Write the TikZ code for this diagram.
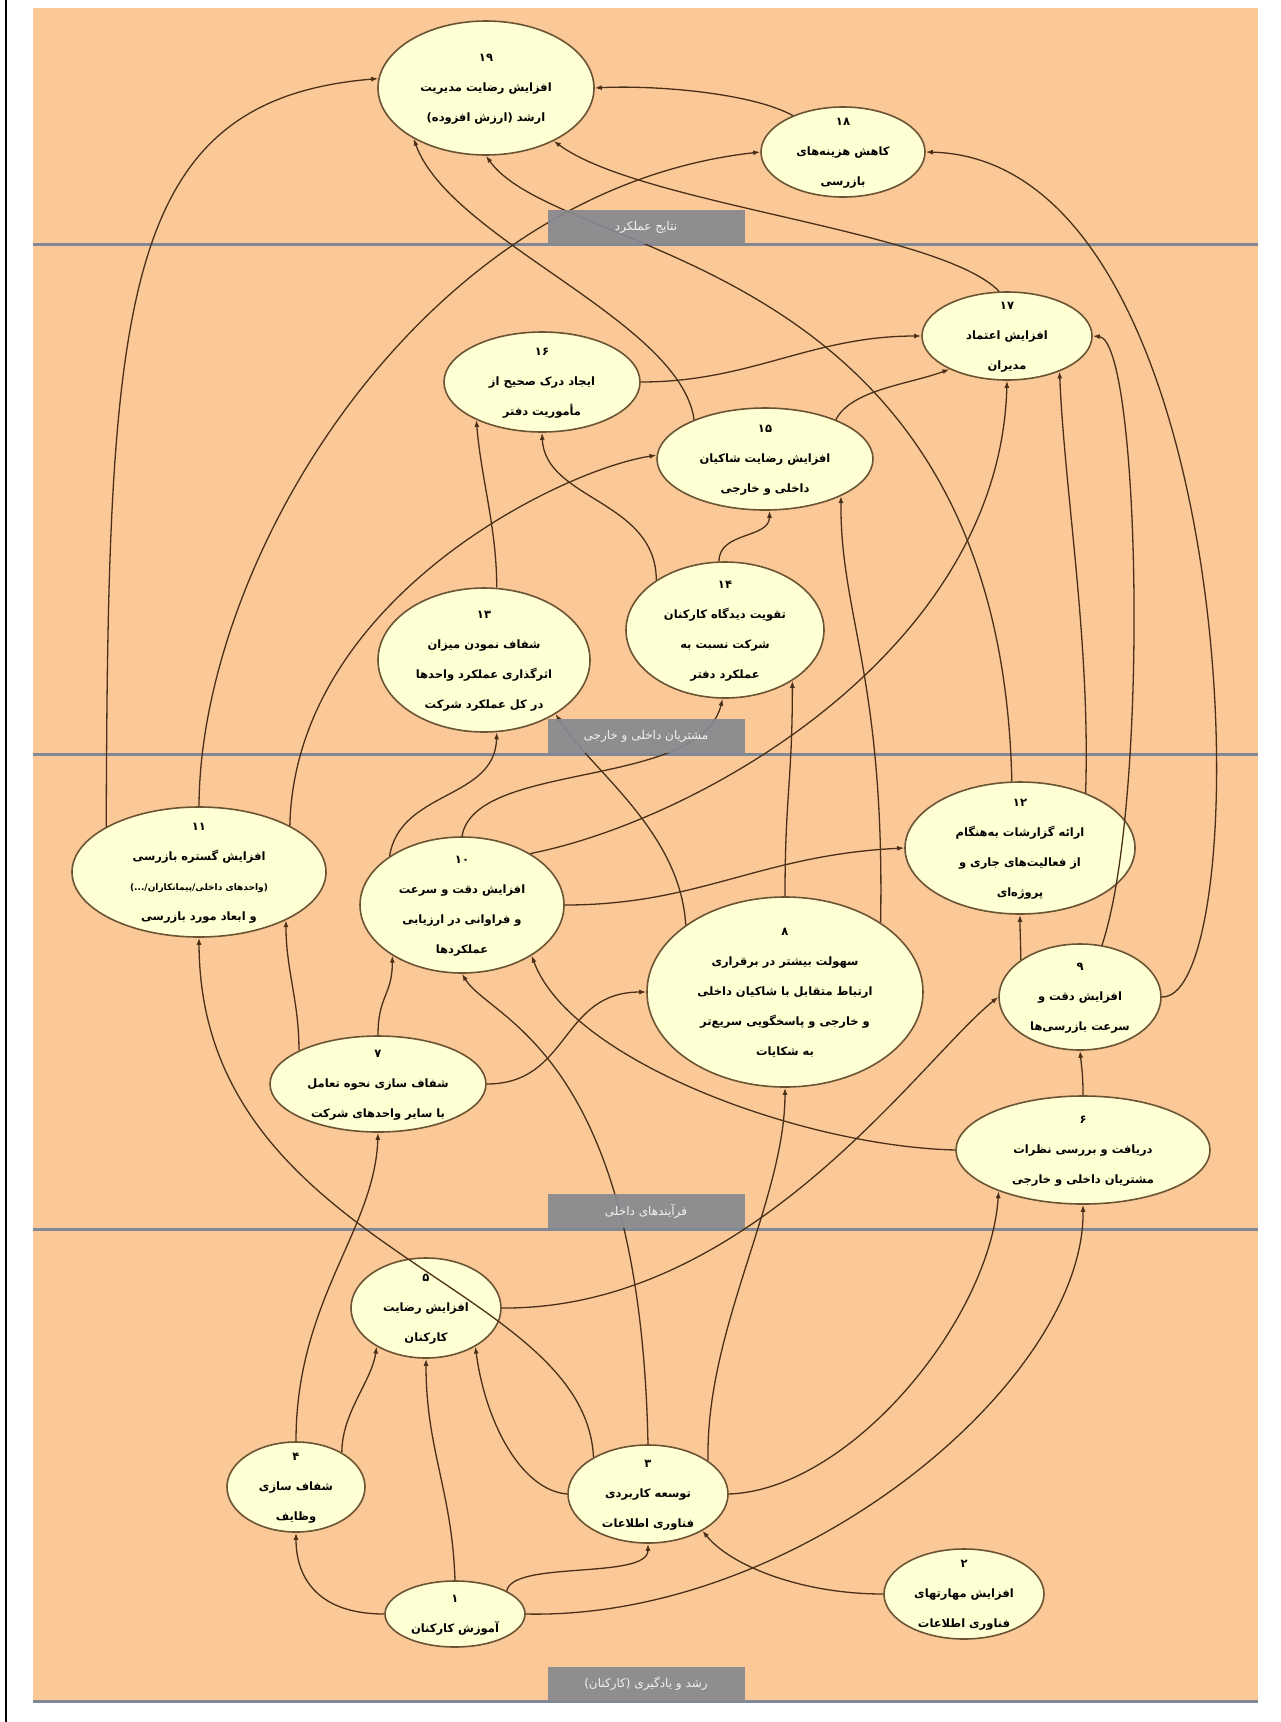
\documentclass[tikz,border=0pt]{standalone}
\usepackage{fontspec}
\usepackage{tikz}
\usetikzlibrary{shapes.geometric,arrows.meta}
\newfontfamily\arabicfont[Script=Arabic,BoldFont={DejaVu Sans Bold}]{DejaVu Sans}
\TeXXeTstate=1
\newcommand\fa[1]{{\arabicfont\beginR #1\endR}}
\newcommand\goaltext[1]{\makebox[0pt]{\smash{\begin{tabular}{@{}c@{}}#1\end{tabular}}}}
\definecolor{peach}{HTML}{FBC898}
\definecolor{goalfill}{HTML}{FFFFD4}
\definecolor{goalborder}{HTML}{6B5433}
\definecolor{linkbrown}{HTML}{4A3018}
\definecolor{sepgray}{HTML}{7F8894}
\definecolor{boxgray}{HTML}{86898F}

\begin{document}
\begin{tikzpicture}[x=1pt,y=-1pt,
  goal/.style={ellipse,draw=goalborder,fill=goalfill,line width=1.6pt,inner sep=0pt,font=\arabicfont\bfseries\fontsize{11.5}{30}\selectfont},
  link/.style={draw=linkbrown,line width=1.3pt,-{Latex[length=7pt,width=5pt]}},
  sepline/.style={draw=sepgray,line width=3pt},
  stagebox/.style={fill=boxgray,fill opacity=.92,text opacity=1,text=white!90!gray,minimum width=197pt,minimum height=34pt,inner sep=0pt,font=\fontsize{12}{14}\selectfont}]
\useasboundingbox (0,0) rectangle (1281,1722);
\fill[white] (0,0) rectangle (1281,1722);
\fill[peach] (33,8) rectangle (1258,1700);
\draw[black,line width=1.2pt] (6,0) -- (6,1722);
\foreach \yy in {244,754,1229,1701} \draw[sepline] (33,\yy) -- (1258,\yy);

\node[goal,minimum width=216pt,minimum height=134pt] (g19) at (486,88) {\goaltext{۱۹\\ \fa{افزایش رضایت مدیریت}\\ \fa{ارشد (ارزش افزوده)}}};
\node[goal,minimum width=164pt,minimum height=90pt] (g18) at (843,152) {\goaltext{۱۸\\ \fa{کاهش هزینه‌های}\\ \fa{بازرسی}}};
\node[goal,minimum width=170pt,minimum height=88pt] (g17) at (1007,336) {\goaltext{۱۷\\ \fa{افزایش اعتماد}\\ \fa{مدیران}}};
\node[goal,minimum width=196pt,minimum height=100pt] (g16) at (542,382) {\goaltext{۱۶\\ \fa{ایجاد درک صحیح از}\\ \fa{مأموریت دفتر}}};
\node[goal,minimum width=216pt,minimum height=102pt] (g15) at (765,459) {\goaltext{۱۵\\ \fa{افزایش رضایت شاکیان}\\ \fa{داخلی و خارجی}}};
\node[goal,minimum width=198pt,minimum height=136pt] (g14) at (725,630) {\goaltext{۱۴\\ \fa{تقویت دیدگاه کارکنان}\\ \fa{شرکت نسبت به}\\ \fa{عملکرد دفتر}}};
\node[goal,minimum width=212pt,minimum height=144pt] (g13) at (484,660) {\goaltext{۱۳\\ \fa{شفاف نمودن میزان}\\ \fa{اثرگذاری عملکرد واحدها}\\ \fa{در کل عملکرد شرکت}}};
\node[goal,minimum width=230pt,minimum height=132pt] (g12) at (1020,848) {\goaltext{۱۲\\ \fa{ارائه گزارشات به‌هنگام}\\ \fa{از فعالیت‌های جاری و}\\ \fa{پروژه‌ای}}};
\node[goal,minimum width=254pt,minimum height=130pt] (g11) at (199,872) {\goaltext{۱۱\\ \fa{افزایش گستره بازرسی}\\ {\fontsize{9}{30}\selectfont\fa{(واحدهای داخلی/پیمانکاران/...)}}\\ \fa{و ابعاد مورد بازرسی}}};
\node[goal,minimum width=204pt,minimum height=136pt] (g10) at (462,905) {\goaltext{۱۰\\ \fa{افزایش دقت و سرعت}\\ \fa{و فراوانی در ارزیابی}\\ \fa{عملکردها}}};
\node[goal,minimum width=276pt,minimum height=190pt] (g8) at (785,992) {\goaltext{۸\\ \fa{سهولت بیشتر در برقراری}\\ \fa{ارتباط متقابل با شاکیان داخلی}\\ \fa{و خارجی و پاسخگویی سریع‌تر}\\ \fa{به شکایات}}};
\node[goal,minimum width=162pt,minimum height=106pt] (g9) at (1080,997) {\goaltext{۹\\ \fa{افزایش دقت و}\\ \fa{سرعت بازرسی‌ها}}};
\node[goal,minimum width=216pt,minimum height=96pt] (g7) at (378,1084) {\goaltext{۷\\ \fa{شفاف سازی نحوه تعامل}\\ \fa{با سایر واحدهای شرکت}}};
\node[goal,minimum width=254pt,minimum height=108pt] (g6) at (1083,1150) {\goaltext{۶\\ \fa{دریافت و بررسی نظرات}\\ \fa{مشتریان داخلی و خارجی}}};
\node[goal,minimum width=150pt,minimum height=100pt] (g5) at (426,1308) {\goaltext{۵\\ \fa{افزایش رضایت}\\ \fa{کارکنان}}};
\node[goal,minimum width=138pt,minimum height=90pt] (g4) at (296,1487) {\goaltext{۴\\ \fa{شفاف سازی}\\ \fa{وظایف}}};
\node[goal,minimum width=160pt,minimum height=98pt] (g3) at (648,1494) {\goaltext{۳\\ \fa{توسعه کاربردی}\\ \fa{فناوری اطلاعات}}};
\node[goal,minimum width=160pt,minimum height=90pt] (g2) at (964,1594) {\goaltext{۲\\ \fa{افزایش مهارتهای}\\ \fa{فناوری اطلاعات}}};
\node[goal,minimum width=140pt,minimum height=66pt] (g1) at (455,1614) {\goaltext{۱\\ \fa{آموزش کارکنان}}};

\draw[link] (g18.144) .. controls (750,92) and (650,85) .. (g19.0);
\draw[link] (g9.0) .. controls (1260,1000) and (1250,160) .. (g18.0);
\draw[link] (g17.100) .. controls (940,230) and (640,205) .. (g19.-38);
\draw[link] (g12.97) .. controls (1000,250) and (560,260) .. (g19.-90);
\draw[link] (g15.151) .. controls (680,320) and (450,240) .. (g19.-145);
\draw[link] (g11.154) .. controls (108,300) and (120,100) .. (g19.175);
\draw[link] (g11.90) .. controls (200,560) and (420,190) .. (g18.180);
\draw[link] (g11.27) .. controls (295,600) and (560,470) .. (g15.178);
\draw[link] (g15.29) .. controls +(15,-30) and +(-40,15) .. (g17.210);
\draw[link] (g16.0) .. controls +(110,0) and +(-110,0) .. (g17.180);
\draw[link] (g13.80) .. controls +(0,-60) and +(5,60) .. (g16.-150);
\draw[link] (g14.144) .. controls (656,500) and (545,500) .. (g16.-90);
\draw[link] (g14.95) .. controls +(0,-30) and +(0,28) .. (g15.-85);
\draw[link] (g8.36) .. controls (885,676) and (840,615) .. (g15.-26);
\draw[link] (g8.90) .. controls +(0,-100) and +(0,100) .. (g14.-37);
\draw[link] (g8.146) .. controls (680,830) and (590,770) .. (g13.-37);
\draw[link] (g10.146) .. controls (400,790) and (495,800) .. (g13.-80);
\draw[link] (g10.90) .. controls (475,760) and (700,790) .. (g14.-92);
\draw[link] (g10.0) .. controls (700,905) and (760,855) .. (g12.180);
\draw[link] (g10.37) .. controls (700,820) and (1000,650) .. (g17.-90);
\draw[link] (g12.40) .. controls +(5,-150) and +(5,120) .. (g17.-34);
\draw[link] (g9.148) .. controls +(0,-20) and +(0,20) .. (g12.-90);
\draw[link] (g9.67) .. controls (1150,800) and (1140,340) .. (g17.0);
\draw[link] (g6.90) .. controls +(0,-20) and +(2,20) .. (g9.-90);
\draw[link] (g6.180) .. controls (800,1146) and (570,1060) .. (g10.-36);
\draw[link] (g7.157) .. controls +(0,-50) and +(0,50) .. (g11.-29);
\draw[link] (g7.90) .. controls +(0,-40) and +(0,40) .. (g10.-144);
\draw[link] (g7.0) .. controls (570,1084) and (560,992) .. (g8.180);
\draw[link] (g3.180) .. controls (520,1490) and (485,1420) .. (g5.-38);
\draw[link] (g1.24) .. controls (512,1560) and (648,1580) .. (g3.-90);
\draw[link] (g1.180) .. controls (320,1614) and (296,1580) .. (g4.-90);
\draw[link] (g1.90) .. controls (452,1490) and (426,1450) .. (g5.-90);
\draw[link] (g1.0) .. controls (800,1620) and (1085,1380) .. (g6.-90);
\draw[link] (g2.180) .. controls (800,1594) and (730,1565) .. (g3.-34);
\draw[link] (g4.37) .. controls +(0,-40) and +(-5,35) .. (g5.218);
\draw[link] (g4.90) .. controls (296,1300) and (375,1230) .. (g7.-90);
\draw[link] (g3.146) .. controls (585,1280) and (200,1250) .. (g11.-90);
\draw[link] (g3.90) .. controls (640,1050) and (490,1020) .. (g10.-90);
\draw[link] (g3.29) .. controls (705,1330) and (785,1200) .. (g8.-90);
\draw[link] (g3.0) .. controls (850,1490) and (990,1320) .. (g6.-154);
\draw[link] (g5.0) .. controls (750,1310) and (920,1060) .. (g9.180);

\node[stagebox] (s1) at (646,227) {\fa{نتایج عملکرد}};
\node[stagebox] (s2) at (646,736) {\fa{مشتریان داخلی و خارجی}};
\node[stagebox] (s3) at (646,1211) {\fa{فرآیندهای داخلی}};
\node[stagebox] (s4) at (646,1684) {\fa{رشد و یادگیری (کارکنان)}};
\end{tikzpicture}
\end{document}
